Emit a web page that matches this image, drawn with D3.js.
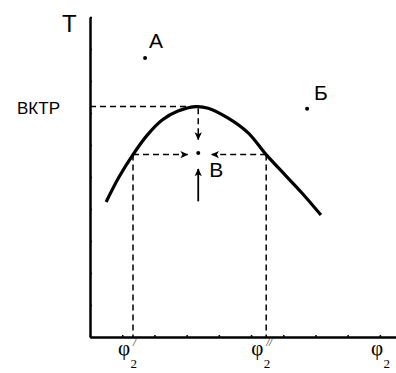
<!DOCTYPE html>
<html>
<head>
<meta charset="utf-8">
<script src="https://cdn.jsdelivr.net/npm/d3@7"></script>
<style>
  html, body { margin: 0; padding: 0; background: #fff; }
  svg { display: block; }
</style>
</head>
<body>
<svg id="chart" width="396" height="373"></svg>
<script>
// Curve of T against φ2 (arbitrary units on a 1-unit grid)
const curvePhi = [0.50, 0.90, 1.335, 1.77, 2.24, 2.73, 3.28, 3.67, 4.29, 4.91, 5.47, 6.06, 6.58, 7.17];
const curveT   = [4.22, 5.00, 5.70, 6.30, 6.78, 7.06, 7.20, 7.15, 6.84, 6.38, 5.70, 5.06, 4.50, 3.81];

// Key values
const peakPhi = 3.30, peakT = 7.20;           // ВКТР
const phiLow = 1.335, phiHigh = 5.47, levelT = 5.70;
const arrowUpFromT = 4.24, arrowUpToT = 5.25;

// Marked states
const pointNames = ["А", "Б", "В"];
const pointPhi   = [1.71, 6.74, 3.36];
const pointT     = [8.72, 7.13, 5.75];

// Axis ticks and labels
const xTicks = d3.range(0, 10);
const yTicks = d3.range(0, 11);
const yLabel = "ВКТР";
const xLabelMarks = ["/", "//", ""];
const xLabelPhi = [phiLow, phiHigh, 9.19];

const svg = d3.select("#chart");
const x = d3.scaleLinear().domain([0, 9.5]).range([90, 396]);
const y = d3.scaleLinear().domain([0, 10]).range([337, 17]);

const defs = svg.append("defs");
defs.append("marker")
  .attr("id", "head")
  .attr("viewBox", "0 -5 10 10")
  .attr("refX", 9).attr("refY", 0)
  .attr("markerWidth", 8).attr("markerHeight", 8)
  .attr("markerUnits", "userSpaceOnUse")
  .attr("orient", "auto")
  .append("path")
  .attr("d", "M0,-4.5L10,0L0,4.5L2.5,0Z")
  .attr("fill", "#000");

// Axes
const xAxis = d3.axisBottom(x).tickValues(xTicks).tickSize(-2).tickSizeOuter(0).tickFormat("");
const yAxis = d3.axisLeft(y).tickValues(yTicks).tickSize(-2).tickSizeOuter(0).tickFormat("");
const gx = svg.append("g").attr("transform", `translate(0,${y(0)})`).call(xAxis);
const gy = svg.append("g").attr("transform", `translate(${x(0)},0)`).call(yAxis);
[gx, gy].forEach(g => {
  g.select(".domain").attr("stroke", "#000").attr("stroke-width", 2.5);
  g.selectAll(".tick line").attr("stroke", "#000").attr("stroke-width", 1.5);
});

// Dashed guides
const dash = "6,4";
const guides = [
  [[0, peakT], [peakPhi, peakT]],
  [[phiLow, levelT], [phiLow, 0]],
  [[phiHigh, levelT], [phiHigh, 0]]
];
svg.append("g").selectAll("line").data(guides).join("line")
  .attr("x1", d => x(d[0][0])).attr("y1", d => y(d[0][1]))
  .attr("x2", d => x(d[1][0])).attr("y2", d => y(d[1][1]))
  .attr("stroke", "#000").attr("stroke-width", 1.5).attr("stroke-dasharray", dash);

// Dashed arrows converging on В
const bPhi = pointPhi[2];
const arrows = [
  [[bPhi, peakT - 0.05], [bPhi, 6.17]],
  [[phiLow, levelT], [bPhi - 0.33, levelT]],
  [[phiHigh, levelT], [bPhi + 0.42, levelT]]
];
svg.append("g").selectAll("line").data(arrows).join("line")
  .attr("x1", d => x(d[0][0])).attr("y1", d => y(d[0][1]))
  .attr("x2", d => x(d[1][0])).attr("y2", d => y(d[1][1]))
  .attr("stroke", "#000").attr("stroke-width", 1.5).attr("stroke-dasharray", dash)
  .attr("marker-end", "url(#head)");

// Solid arrow from below
svg.append("line")
  .attr("x1", x(bPhi)).attr("y1", y(arrowUpFromT))
  .attr("x2", x(bPhi)).attr("y2", y(arrowUpToT))
  .attr("stroke", "#000").attr("stroke-width", 1.8)
  .attr("marker-end", "url(#head)");

// Main curve
const line = d3.line()
  .x((d, i) => x(curvePhi[i]))
  .y(d => y(d))
  .curve(d3.curveCatmullRom.alpha(0.5));
svg.append("path")
  .datum(curveT)
  .attr("d", line)
  .attr("fill", "none")
  .attr("stroke", "#000")
  .attr("stroke-width", 3.2)
  .attr("stroke-linecap", "butt");

// Points and their names
const pts = pointNames.map((n, i) => ({ n, p: pointPhi[i], t: pointT[i] }));
svg.append("g").selectAll("circle").data(pts).join("circle")
  .attr("cx", d => x(d.p)).attr("cy", d => y(d.t)).attr("r", 2).attr("fill", "#000");
const labelOffsets = { "А": [4, -10], "Б": [7, -9], "В": [11, 24] };
svg.append("g").selectAll("text").data(pts).join("text")
  .attr("x", d => x(d.p) + labelOffsets[d.n][0])
  .attr("y", d => y(d.t) + labelOffsets[d.n][1])
  .attr("font-family", "Liberation Sans, Arial, sans-serif")
  .attr("font-size", 21)
  .text(d => d.n);

// Axis titles and labels
const sans = "Liberation Sans, Arial, sans-serif";
const serif = "Liberation Serif, Times New Roman, serif";
svg.append("text").attr("x", 62).attr("y", 32)
  .attr("font-family", sans).attr("font-size", 24).text("Т");
svg.append("text").attr("x", 17).attr("y", y(peakT) + 7)
  .attr("font-family", sans).attr("font-size", 17).text(yLabel);

const xl = svg.append("g").selectAll("g").data(xLabelPhi.map((p, i) => ({ p, m: xLabelMarks[i] })))
  .join("g").attr("transform", d => `translate(${x(d.p) - 15},0)`);
xl.append("text").attr("x", 0).attr("y", 355)
  .attr("font-family", serif).attr("font-size", 21).text("φ");
xl.append("text").attr("x", 12.5).attr("y", 368)
  .attr("font-family", serif).attr("font-size", 13).text("2");
xl.append("text").attr("x", 15).attr("y", 346)
  .attr("font-family", serif).attr("font-size", 10).attr("font-style", "italic")
  .text(d => d.m);
</script>
</body>
</html>
